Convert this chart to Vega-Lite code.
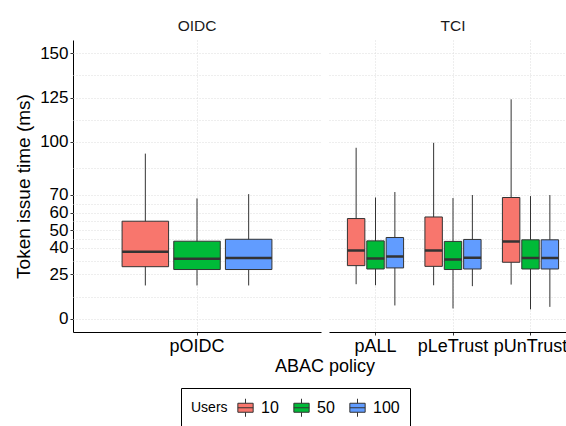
{
  "$schema": "https://vega.github.io/schema/vega-lite/v6.json",
  "padding": {"left": 14, "top": 18, "right": 0, "bottom": 0},
  "data": {"values": [
    {"panel": "OIDC", "policy": "pOIDC", "users": "10", "lower": 18.8, "q1": 29.4, "median": 37.9, "q3": 55.1, "upper": 93.3},
    {"panel": "OIDC", "policy": "pOIDC", "users": "50", "lower": 18.8, "q1": 27.8, "median": 33.9, "q3": 43.8, "upper": 68.0},
    {"panel": "OIDC", "policy": "pOIDC", "users": "100", "lower": 18.8, "q1": 27.8, "median": 34.3, "q3": 44.9, "upper": 70.4},
    {"panel": "TCI", "policy": "pALL", "users": "10", "lower": 19.5, "q1": 30.0, "median": 38.6, "q3": 56.6, "upper": 96.6},
    {"panel": "TCI", "policy": "pALL", "users": "50", "lower": 18.9, "q1": 28.1, "median": 34.1, "q3": 44.0, "upper": 68.5},
    {"panel": "TCI", "policy": "pALL", "users": "100", "lower": 7.5, "q1": 28.7, "median": 35.2, "q3": 45.9, "upper": 71.6},
    {"panel": "TCI", "policy": "pLeTrust", "users": "10", "lower": 18.9, "q1": 29.6, "median": 38.6, "q3": 57.5, "upper": 99.4},
    {"panel": "TCI", "policy": "pLeTrust", "users": "50", "lower": 5.8, "q1": 27.8, "median": 33.5, "q3": 43.7, "upper": 68.2},
    {"panel": "TCI", "policy": "pLeTrust", "users": "100", "lower": 18.4, "q1": 28.1, "median": 34.5, "q3": 44.8, "upper": 69.9},
    {"panel": "TCI", "policy": "pUnTrust", "users": "10", "lower": 19.3, "q1": 31.9, "median": 43.7, "q3": 68.5, "upper": 124.0},
    {"panel": "TCI", "policy": "pUnTrust", "users": "50", "lower": 5.3, "q1": 28.1, "median": 34.3, "q3": 44.6, "upper": 69.3},
    {"panel": "TCI", "policy": "pUnTrust", "users": "100", "lower": 6.7, "q1": 28.1, "median": 34.3, "q3": 44.6, "upper": 69.9}
  ]},
  "facet": {
    "column": {
      "field": "panel", "type": "nominal", "sort": ["OIDC", "TCI"],
      "header": {"labelFontSize": 15.5, "labelColor": "#1A1A1A", "labelFont": "Liberation Sans", "labelPadding": 6,
        "title": "ABAC policy", "titleOrient": "bottom", "titleFontSize": 18, "titleFontWeight": "normal", "titleColor": "black", "titleFont": "Liberation Sans", "titlePadding": -7}
    }
  },
  "spacing": 8,
  "resolve": {"scale": {"x": "independent"}},
  "spec": {
    "width": 248,
    "height": 292,
    "layer": [
      {
        "transform": [{"filter": "datum.users == '10'"}],
        "mark": {"type": "rule", "color": "#333333", "strokeWidth": 1},
        "encoding": {
          "x": {"field": "policy", "type": "nominal", "sort": ["pOIDC", "pALL", "pLeTrust", "pUnTrust"], "bandPosition": 0.16667, "title": null,
            "scale": {"type": "band", "paddingInner": 0.25, "paddingOuter": 0.225}},
          "y": {"field": "lower", "type": "quantitative", "title": "Token issue time (ms)", "scale": {"domain": [-7.5, 157.5], "nice": false, "zero": false},
            "axis": {"title": "Token issue time (ms)", "labelOverlap": false,
              "values": [0, 12.5, 25, 32.5, 40, 45, 50, 55, 60, 65, 70, 85, 100, 112.5, 125, 137.5, 150],
              "labelExpr": "indexof([0,25,40,50,60,70,100,125,150], datum.value) >= 0 ? datum.label : ''",
              "tickOpacity": {"condition": {"test": "indexof([0,25,40,50,60,70,100,125,150], datum.value) >= 0", "value": 1}, "value": 0}}},
          "y2": {"field": "upper"}
        }
      },
      {
        "transform": [{"filter": "datum.users == '50'"}],
        "mark": {"type": "rule", "color": "#333333", "strokeWidth": 1},
        "encoding": {
          "x": {"field": "policy", "type": "nominal", "sort": ["pOIDC", "pALL", "pLeTrust", "pUnTrust"], "bandPosition": 0.5, "title": null},
          "y": {"field": "lower", "type": "quantitative", "title": "Token issue time (ms)",
            "axis": {"title": "Token issue time (ms)", "labelOverlap": false,
              "values": [0, 12.5, 25, 32.5, 40, 45, 50, 55, 60, 65, 70, 85, 100, 112.5, 125, 137.5, 150],
              "labelExpr": "indexof([0,25,40,50,60,70,100,125,150], datum.value) >= 0 ? datum.label : ''",
              "tickOpacity": {"condition": {"test": "indexof([0,25,40,50,60,70,100,125,150], datum.value) >= 0", "value": 1}, "value": 0}}},
          "y2": {"field": "upper"}
        }
      },
      {
        "transform": [{"filter": "datum.users == '100'"}],
        "mark": {"type": "rule", "color": "#333333", "strokeWidth": 1},
        "encoding": {
          "x": {"field": "policy", "type": "nominal", "sort": ["pOIDC", "pALL", "pLeTrust", "pUnTrust"], "bandPosition": 0.83333, "title": null},
          "y": {"field": "lower", "type": "quantitative", "title": "Token issue time (ms)",
            "axis": {"title": "Token issue time (ms)", "labelOverlap": false,
              "values": [0, 12.5, 25, 32.5, 40, 45, 50, 55, 60, 65, 70, 85, 100, 112.5, 125, 137.5, 150],
              "labelExpr": "indexof([0,25,40,50,60,70,100,125,150], datum.value) >= 0 ? datum.label : ''",
              "tickOpacity": {"condition": {"test": "indexof([0,25,40,50,60,70,100,125,150], datum.value) >= 0", "value": 1}, "value": 0}}},
          "y2": {"field": "upper"}
        }
      },
      {
        "transform": [{"filter": "datum.users == '10'"}],
        "mark": {"type": "rect", "stroke": "#333333", "strokeWidth": 1},
        "encoding": {
          "x": {"field": "policy", "type": "nominal", "sort": ["pOIDC", "pALL", "pLeTrust", "pUnTrust"], "bandPosition": 0.01667, "title": null},
          "x2": {"field": "policy", "bandPosition": 0.31667},
          "y": {"field": "q1", "type": "quantitative", "title": "Token issue time (ms)",
            "axis": {"title": "Token issue time (ms)", "labelOverlap": false,
              "values": [0, 12.5, 25, 32.5, 40, 45, 50, 55, 60, 65, 70, 85, 100, 112.5, 125, 137.5, 150],
              "labelExpr": "indexof([0,25,40,50,60,70,100,125,150], datum.value) >= 0 ? datum.label : ''",
              "tickOpacity": {"condition": {"test": "indexof([0,25,40,50,60,70,100,125,150], datum.value) >= 0", "value": 1}, "value": 0}}},
          "y2": {"field": "q3"},
          "color": {
            "field": "users", "type": "nominal", "sort": ["10", "50", "100"],
            "scale": {"domain": ["10", "50", "100"], "range": ["#F8766D", "#00BA38", "#619CFF"]},
            "legend": {
              "title": "Users", "orient": "bottom", "direction": "horizontal", "titleOrient": "left",
              "titleFontSize": 14, "titleFontWeight": "normal", "titleColor": "black", "titleBaseline": "middle", "titlePadding": 8,
              "labelFontSize": 16, "labelColor": "black", "labelOffset": 6,
              "symbolType": "M-0.85,-0.5H0.85V0.5H-0.85Z M-0.85,0H0.85 M0,-0.5V-1 M0,0.5V1",
              "symbolSize": 324, "symbolStrokeColor": "#333333", "symbolStrokeWidth": 1, "symbolOpacity": 1,
              "columnPadding": 12, "strokeColor": "black", "padding": 10, "offset": 12
            }
          }
        }
      },
      {
        "transform": [{"filter": "datum.users == '50'"}],
        "mark": {"type": "rect", "stroke": "#333333", "strokeWidth": 1},
        "encoding": {
          "x": {"field": "policy", "type": "nominal", "sort": ["pOIDC", "pALL", "pLeTrust", "pUnTrust"], "bandPosition": 0.35, "title": null},
          "x2": {"field": "policy", "bandPosition": 0.65},
          "y": {"field": "q1", "type": "quantitative", "title": "Token issue time (ms)",
            "axis": {"title": "Token issue time (ms)", "labelOverlap": false,
              "values": [0, 12.5, 25, 32.5, 40, 45, 50, 55, 60, 65, 70, 85, 100, 112.5, 125, 137.5, 150],
              "labelExpr": "indexof([0,25,40,50,60,70,100,125,150], datum.value) >= 0 ? datum.label : ''",
              "tickOpacity": {"condition": {"test": "indexof([0,25,40,50,60,70,100,125,150], datum.value) >= 0", "value": 1}, "value": 0}}},
          "y2": {"field": "q3"},
          "color": {"field": "users", "type": "nominal", "sort": ["10", "50", "100"]}
        }
      },
      {
        "transform": [{"filter": "datum.users == '100'"}],
        "mark": {"type": "rect", "stroke": "#333333", "strokeWidth": 1},
        "encoding": {
          "x": {"field": "policy", "type": "nominal", "sort": ["pOIDC", "pALL", "pLeTrust", "pUnTrust"], "bandPosition": 0.68333, "title": null},
          "x2": {"field": "policy", "bandPosition": 0.98333},
          "y": {"field": "q1", "type": "quantitative", "title": "Token issue time (ms)",
            "axis": {"title": "Token issue time (ms)", "labelOverlap": false,
              "values": [0, 12.5, 25, 32.5, 40, 45, 50, 55, 60, 65, 70, 85, 100, 112.5, 125, 137.5, 150],
              "labelExpr": "indexof([0,25,40,50,60,70,100,125,150], datum.value) >= 0 ? datum.label : ''",
              "tickOpacity": {"condition": {"test": "indexof([0,25,40,50,60,70,100,125,150], datum.value) >= 0", "value": 1}, "value": 0}}},
          "y2": {"field": "q3"},
          "color": {"field": "users", "type": "nominal", "sort": ["10", "50", "100"]}
        }
      },
      {
        "transform": [{"filter": "datum.users == '10'"}],
        "mark": {"type": "rect", "stroke": "#333333", "strokeWidth": 2.5, "fill": "#333333"},
        "encoding": {
          "x": {"field": "policy", "type": "nominal", "sort": ["pOIDC", "pALL", "pLeTrust", "pUnTrust"], "bandPosition": 0.01667, "title": null},
          "x2": {"field": "policy", "bandPosition": 0.31667},
          "y": {"field": "median", "type": "quantitative", "title": "Token issue time (ms)",
            "axis": {"title": "Token issue time (ms)", "labelOverlap": false,
              "values": [0, 12.5, 25, 32.5, 40, 45, 50, 55, 60, 65, 70, 85, 100, 112.5, 125, 137.5, 150],
              "labelExpr": "indexof([0,25,40,50,60,70,100,125,150], datum.value) >= 0 ? datum.label : ''",
              "tickOpacity": {"condition": {"test": "indexof([0,25,40,50,60,70,100,125,150], datum.value) >= 0", "value": 1}, "value": 0}}},
          "y2": {"field": "median"}
        }
      },
      {
        "transform": [{"filter": "datum.users == '50'"}],
        "mark": {"type": "rect", "stroke": "#333333", "strokeWidth": 2.5, "fill": "#333333"},
        "encoding": {
          "x": {"field": "policy", "type": "nominal", "sort": ["pOIDC", "pALL", "pLeTrust", "pUnTrust"], "bandPosition": 0.35, "title": null},
          "x2": {"field": "policy", "bandPosition": 0.65},
          "y": {"field": "median", "type": "quantitative", "title": "Token issue time (ms)",
            "axis": {"title": "Token issue time (ms)", "labelOverlap": false,
              "values": [0, 12.5, 25, 32.5, 40, 45, 50, 55, 60, 65, 70, 85, 100, 112.5, 125, 137.5, 150],
              "labelExpr": "indexof([0,25,40,50,60,70,100,125,150], datum.value) >= 0 ? datum.label : ''",
              "tickOpacity": {"condition": {"test": "indexof([0,25,40,50,60,70,100,125,150], datum.value) >= 0", "value": 1}, "value": 0}}},
          "y2": {"field": "median"}
        }
      },
      {
        "transform": [{"filter": "datum.users == '100'"}],
        "mark": {"type": "rect", "stroke": "#333333", "strokeWidth": 2.5, "fill": "#333333"},
        "encoding": {
          "x": {"field": "policy", "type": "nominal", "sort": ["pOIDC", "pALL", "pLeTrust", "pUnTrust"], "bandPosition": 0.68333, "title": null},
          "x2": {"field": "policy", "bandPosition": 0.98333},
          "y": {"field": "median", "type": "quantitative", "title": "Token issue time (ms)",
            "axis": {"title": "Token issue time (ms)", "labelOverlap": false,
              "values": [0, 12.5, 25, 32.5, 40, 45, 50, 55, 60, 65, 70, 85, 100, 112.5, 125, 137.5, 150],
              "labelExpr": "indexof([0,25,40,50,60,70,100,125,150], datum.value) >= 0 ? datum.label : ''",
              "tickOpacity": {"condition": {"test": "indexof([0,25,40,50,60,70,100,125,150], datum.value) >= 0", "value": 1}, "value": 0}}},
          "y2": {"field": "median"}
        }
      }
    ]
  },
  "config": {
    "font": "Liberation Sans",
    "view": {"stroke": null},
    "legend": {"layout": {"bottom": {"anchor": "middle"}}},
    "axisX": {"labelAngle": 0, "labelFontSize": 18, "labelColor": "black", "labelPadding": 2, "tickColor": "#333333", "tickSize": 3, "domainColor": "black", "grid": true, "gridColor": "#DDDDDD", "gridDash": [1, 2], "bandPosition": 0.5},
    "axisY": {"titleFontSize": 19, "titleFontWeight": "normal", "titleColor": "black", "titlePadding": 6, "labelFontSize": 17, "labelColor": "black", "labelPadding": 2, "tickSize": 3, "tickColor": "#333333", "domainColor": "black", "grid": true, "gridColor": "#DDDDDD", "gridDash": [1, 2]}
  }
}
